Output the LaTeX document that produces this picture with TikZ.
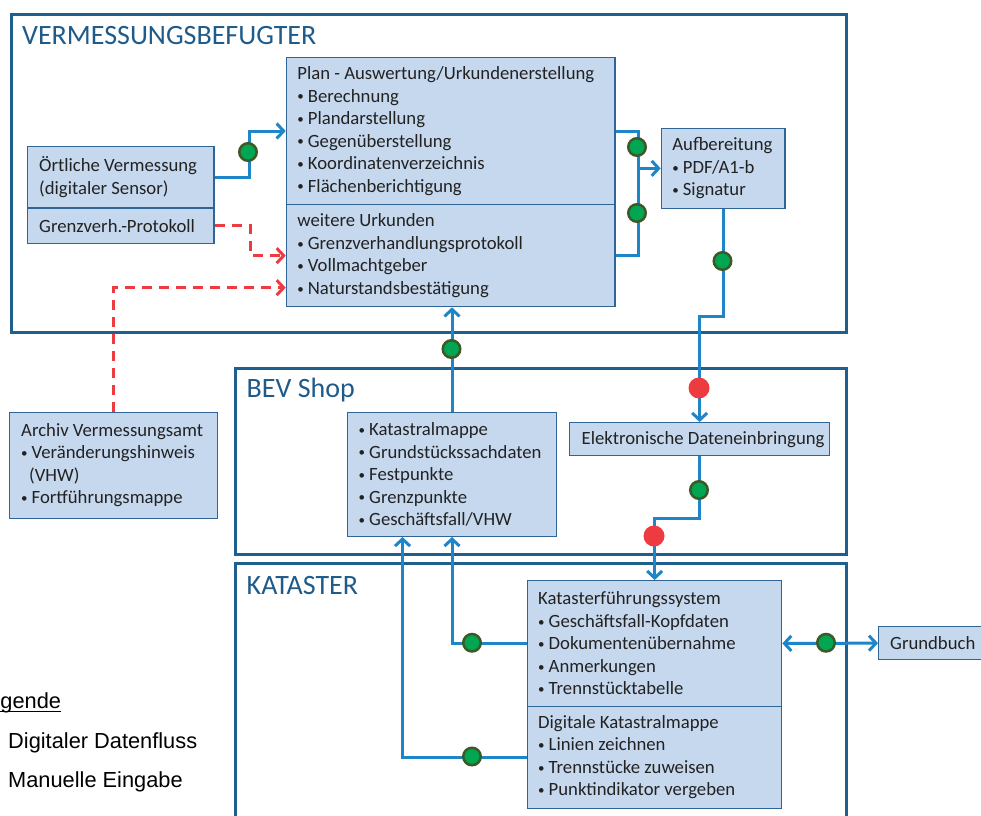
\documentclass[tikz,border=0pt]{standalone}
\usepackage{fontspec}
\setmainfont{Carlito}
\newfontfamily\arialf{Liberation Sans}
\usetikzlibrary{arrows.meta}
\definecolor{frameblue}{HTML}{1F5F8E}
\definecolor{titleblue}{HTML}{1F5B8A}
\definecolor{connblue}{HTML}{1E86C8}
\definecolor{boxfill}{HTML}{C6D8EE}
\definecolor{boxline}{HTML}{2F6596}
\definecolor{dotgreen}{HTML}{00A651}
\definecolor{dotrim}{HTML}{3B5A28}
\definecolor{dotred}{HTML}{EE3B40}
\definecolor{txtgray}{HTML}{222222}
\newcommand{\bul}{\makebox[10.5pt][l]{\raisebox{1.2pt}{\fontsize{13}{13}\selectfont •}}}
\begin{document}
\begin{tikzpicture}[x=1pt,y=-1pt,
  frame/.style={draw=frameblue, line width=3pt, anchor=north west, inner sep=0pt},
  box/.style={draw=boxline, fill=boxfill, line width=1.3pt, anchor=north west, inner sep=0pt},
  txt/.style={anchor=west, inner sep=0pt, align=left, text=txtgray, font=\fontsize{18.7}{22.5}\selectfont},
  title/.style={anchor=base west, inner sep=0pt, text=titleblue, font=\fontsize{28}{32}\selectfont},
  legtxt/.style={anchor=base west, inner sep=0pt, text=black, font=\arialf\fontsize{21.8}{26}\selectfont},
  tip/.style={-{Straight Barb[length=7pt,width=15pt]}},
  conn/.style={draw=connblue, line width=3pt},
  mdash/.style={draw=dotred, line width=3pt, dash pattern=on 10pt off 7pt},
  gdot/.style={circle, fill=dotgreen, draw=dotrim, line width=2.5pt, minimum size=17.5pt, inner sep=0pt},
  rdot/.style={circle, fill=dotred, minimum size=21pt, inner sep=0pt}
]
\useasboundingbox (0,0) rectangle (981,815);

% frames
\node[frame, minimum width=835.5, minimum height=318] (fVerm) at (9.5,13) {};
\node[frame, minimum width=611, minimum height=186] (fBev) at (234,367) {};
\node[frame, minimum width=611, minimum height=300] (fKat) at (234,562) {};
\node[title] (tVerm) at (22,44) {VERMESSUNGSBEFUGTER};
\node[title] (tBev) at (246.5,397.5) {BEV Shop};
\node[title] (tKat) at (246.5,594) {KATASTER};

% boxes
\node[box, minimum width=186.3, minimum height=61.8] (ortA) at (27,145.5) {};
\node[box, minimum width=186.3, minimum height=35.4] (ortB) at (27,207.3) {};
\node[box, minimum width=328.6, minimum height=147.3] (planA) at (285.7,56.7) {};
\node[box, minimum width=328.6, minimum height=102] (planB) at (285.7,204) {};
\node[box, minimum width=123.6, minimum height=80] (aufb) at (660.7,127.7) {};
\node[box, minimum width=207.7, minimum height=106] (archiv) at (9,411.7) {};
\node[box, minimum width=208.7, minimum height=123.7] (bev) at (347,412) {};
\node[box, minimum width=260, minimum height=33] (elek) at (569,422) {};
\node[box, minimum width=254, minimum height=125.5] (kfsA) at (527,580) {};
\node[box, minimum width=254, minimum height=102] (kfsB) at (527,705.5) {};
\node[box, minimum width=115, minimum height=33] (grund) at (878,626) {};

% texts
\node[txt] (ortAt) at ([xshift=12]ortA.west) {Örtliche Vermessung\\(digitaler Sensor)};
\node[txt] (ortBt) at ([xshift=12]ortB.west) {Grenzverh.-Protokoll};
\node[txt] (planAt) at ([xshift=11.5]planA.west) {Plan - Auswertung/Urkundenerstellung\\\bul Berechnung\\\bul Plandarstellung\\\bul Gegenüberstellung\\\bul Koordinatenverzeichnis\\\bul Flächenberichtigung};
\node[txt] (planBt) at ([xshift=11.5]planB.west) {weitere Urkunden\\\bul Grenzverhandlungsprotokoll\\\bul Vollmachtgeber\\\bul Naturstandsbestätigung};
\node[txt] (aufbt) at ([xshift=11.5]aufb.west) {Aufbereitung\\\bul PDF/A1-b\\\bul Signatur};
\node[txt] (archivt) at ([xshift=12]archiv.west) {Archiv Vermessungsamt\\\bul Veränderungshinweis\\\hspace*{8pt}(VHW)\\\bul Fortführungsmappe};
\node[txt] (bevt) at ([xshift=11.5]bev.west) {\bul Katastralmappe\\\bul Grundstückssachdaten\\\bul Festpunkte\\\bul Grenzpunkte\\\bul Geschäftsfall/VHW};
\node[txt] (elekt) at ([xshift=12.5]elek.west) {Elektronische Dateneinbringung};
\node[txt] (kfsAt) at ([xshift=11]kfsA.west) {Katasterführungssystem\\\bul Geschäftsfall-Kopfdaten\\\bul Dokumentenübernahme\\\bul Anmerkungen\\\bul Trennstücktabelle};
\node[txt] (kfsBt) at ([xshift=11]kfsB.west) {Digitale Katastralmappe\\\bul Linien zeichnen\\\bul Trennstücke zuweisen\\\bul Punktindikator vergeben};
\node[txt] (grundt) at ([xshift=12]grund.west) {Grundbuch};

% legend
\node[legtxt] (leg) at (-24,708) {Legende};
\draw[black, line width=1.3pt] ([yshift=-3.5]leg.base west) -- ([yshift=-3.5]leg.base east);
\node[legtxt] (leg1) at (8,748) {Digitaler Datenfluss};
\node[legtxt] (leg2) at (8,787) {Manuelle Eingabe};

% connectors
\draw[conn, tip] (ortA.east) -- ++(35,0) |- (planA.west);
\draw[mdash, tip] (ortB.east) -- ++(36,0) |- (planB.west);
\draw[mdash, tip] (archiv.north) |- ([yshift=-32]planB.west);
\draw[conn] (planA.east) -- ++(23,0) |- (planB.east);
\draw[conn, tip] ([xshift=23]planA.east |- aufb.west) -- (aufb.west);
\draw[conn, tip] (aufb.south) -- ++(0,107.5) -| (elek.north);
\draw[conn, tip] (elek.south) -- ++(0,62) -| (kfsA.north);
\draw[conn, tip] (bev.north) -- (bev.north |- planB.south);
\draw[conn, tip] (kfsA.west) -| (bev.south);
\draw[conn, tip] (kfsB.west) -| ([xshift=-49.5]bev.south);
\draw[conn, {Straight Barb[length=7pt,width=15pt]}-{Straight Barb[length=7pt,width=15pt]}] (kfsA.east) -- (grund.west);

% markers
\node[gdot] (g1) at (248,152) {};
\node[gdot] (g2) at (637,147) {};
\node[gdot] (g3) at (637,213) {};
\node[gdot] (g4) at (722.5,261) {};
\node[gdot] (g5) at (699,490) {};
\node[gdot] (g6) at (451.5,349) {};
\node[gdot] (g7) at (472,642.75) {};
\node[gdot] (g8) at (472,756.5) {};
\node[gdot] (g9) at (826,642.75) {};
\node[rdot] (r1) at (699,388) {};
\node[rdot] (r2) at (654,536) {};
\end{tikzpicture}
\end{document}
